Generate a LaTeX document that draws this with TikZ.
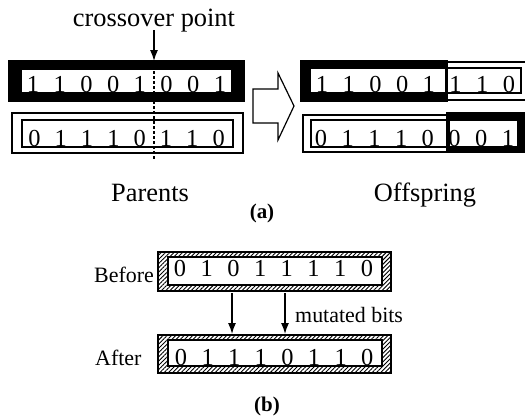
\documentclass[tikz,border=0pt]{standalone}
\usepackage{fontspec}
\setmainfont{Liberation Serif}
\usetikzlibrary{arrows.meta,patterns.meta}
\begin{document}
\begin{tikzpicture}[x=1bp,y=-1bp,
  thinbox/.style={draw=black,line width=1.2bp,fill=white},
  bit/.style={anchor=base,inner sep=0pt,font=\fontsize{24.5}{24.5}\selectfont},
  biglabel/.style={anchor=base,inner sep=0pt,font=\fontsize{26.5}{26.5}\selectfont},
  smalllabel/.style={anchor=base,inner sep=0pt,font=\fontsize{22}{22}\selectfont},
  caption/.style={anchor=base,inner sep=0pt,font=\fontsize{21}{21}\selectfont\bfseries},
  hatched/.style={draw=black,line width=1.4bp,pattern={Lines[angle=45,distance=3bp,line width=0.9bp]}},
  pointer/.style={-{Latex[length=11bp,width=8bp]},line width=1.3bp},
]
\useasboundingbox (0,0) rectangle (525,418);

% ---------- (a) parents ----------
\fill (8,60) rectangle (245,102);
\draw[thinbox] (21,69) rectangle (232,93);
\draw[thinbox] (12,113) rectangle (243,153);
\draw[thinbox] (22,120) rectangle (233,147);

\foreach \b [count=\i from 0] in {1,1,0,0,1,0,0,1}
  \node[bit] (pa\i) at (33+26.7*\i,92) {\b};
\foreach \b [count=\i from 0] in {0,1,1,1,0,1,1,0}
  \node[bit] (pb\i) at (34.5+26.3*\i,146) {\b};

\coordinate (cutTop) at (154,61);
\coordinate (cutBot) at (154,160);
\draw[line width=1.3bp,dash pattern=on 2.5bp off 2.5bp] (cutTop) -- (cutBot);

\node[biglabel] (cp) at (154,26) {crossover point};
\coordinate (cpArrow) at (154,30);
\draw[pointer] (cpArrow) -- (cutTop);

% big arrow
\draw[thinbox] (253,89) -- (278,89) -- (278,73) -- (294,106) -- (278,140)
  -- (278,123) -- (253,123) -- cycle;

% ---------- (a) offspring ----------
\begin{scope}
\clip (0,0) rectangle (525,418);
\draw[thinbox] (446,62) rectangle (545,100);
\draw[thinbox] (447,68) rectangle (521,93);
\fill (300,60) rectangle (448,102);
\draw[thinbox] (310,68) rectangle (446,93);

\draw[thinbox] (303,115) rectangle (448,152);
\draw[thinbox] (311,120) rectangle (447,147);
\fill (446,112) rectangle (545,153);
\draw[thinbox] (449,120) rectangle (518,147);
\end{scope}

\foreach \b [count=\i from 0] in {1,1,0,0,1,1,1,0}
  \node[bit] (oa\i) at (322+26.7*\i,92) {\b};
\foreach \b [count=\i from 0] in {0,1,1,1,0,0,0,1}
  \node[bit] (ob\i) at (321+26.7*\i,146) {\b};

\node[biglabel] (parents) at (150,201) {Parents};
\node[biglabel] (offspring) at (425,201) {Offspring};
\node[caption] (capa) at (262,218) {(a)};

% ---------- (b) mutation ----------
\draw[hatched] (158,252) rectangle (391,291);
\draw[thinbox,line width=1.4bp] (168,257) rectangle (382,285);
\draw[hatched] (158,335) rectangle (391,373);
\draw[thinbox,line width=1.4bp] (168,340) rectangle (382,366);

\foreach \b [count=\i from 0] in {0,1,0,1,1,1,1,0}
  \node[bit] (be\i) at (180+26.7*\i,276) {\b};
\foreach \b [count=\i from 0] in {0,1,1,1,0,1,1,0}
  \node[bit] (af\i) at (181+26.6*\i,365.5) {\b};

\node[smalllabel,anchor=base east] (before) at (154,282) {Before};
\node[smalllabel,anchor=base west] (after) at (95,365) {After};

\coordinate (m1s) at (232,293);
\coordinate (m1e) at (232,334);
\coordinate (m2s) at (285,293);
\coordinate (m2e) at (285,334);
\draw[pointer] (m1s) -- (m1e);
\draw[pointer] (m2s) -- (m2e);
\node[smalllabel,anchor=base west] (mut) at (295,322.5) {mutated bits};

\node[caption] (capb) at (267,411) {(b)};
\end{tikzpicture}
\end{document}
